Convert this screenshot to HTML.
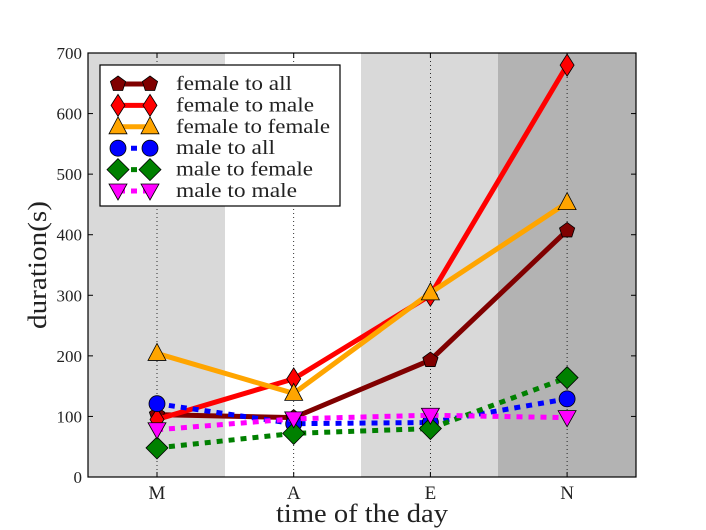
<!DOCTYPE html><html><head><style>body{margin:0;background:#fff}svg{display:block}text{font-family:"Liberation Serif",serif;fill:#222}</style></head><body>
<svg id="s" width="706" height="530" xmlns="http://www.w3.org/2000/svg"></svg>
<script>
const L=88,R=636,T=53,B=477;
const X=i=>157+i*136.7, Y=v=>B-v*(B-T)/700;
let h='';
h+=`<rect x="${L}" y="${T}" width="137" height="${B-T}" fill="#d9d9d9"/>`;
h+=`<rect x="361" y="${T}" width="137" height="${B-T}" fill="#d9d9d9"/>`;
h+=`<rect x="498" y="${T}" width="${R-498}" height="${B-T}" fill="#b3b3b3"/>`;
['M','A','E','N'].forEach((l,i)=>{const x=X(i);h+=`<line x1="${x}" y1="${T}" x2="${x}" y2="${B}" stroke="#000" stroke-width="0.8" stroke-dasharray="1,3"/><line x1="${x}" y1="${B}" x2="${x}" y2="${B-5}" stroke="#000"/><line x1="${x}" y1="${T}" x2="${x}" y2="${T+5}" stroke="#000"/><text x="${x}" y="${B+22}" font-size="19" text-anchor="middle">${l}</text>`;});
for(let v=0;v<=700;v+=100){const y=Y(v);h+=`<line x1="${L}" y1="${y}" x2="${L+5}" y2="${y}" stroke="#000"/><line x1="${R}" y1="${y}" x2="${R-5}" y2="${y}" stroke="#000"/><text x="${L-6}" y="${y+6}" font-size="17" text-anchor="end">${v}</text>`;}
h+=`<rect x="${L}" y="${T}" width="${R-L}" height="${B-T}" fill="none" stroke="#000" stroke-width="1.2"/>`;
h+=`<text x="276" y="522" font-size="26" textLength="172" lengthAdjust="spacingAndGlyphs">time of the day</text>`;
h+=`<text transform="translate(46,329) rotate(-90)" font-size="26" textLength="128" lengthAdjust="spacingAndGlyphs">duration(s)</text>`;
function mk(t,x,y,c){
 if(t=='p'){let p=[];for(let k=0;k<5;k++){let a=-Math.PI/2+k*2*Math.PI/5;p.push((x+8*Math.cos(a))+','+(y+8*Math.sin(a)))}return `<polygon points="${p}" fill="${c}" stroke="#000" stroke-width="0.8"/>`;}
 if(t=='d')return `<polygon points="${x},${y-11} ${x+7},${y} ${x},${y+11} ${x-7},${y}" fill="${c}" stroke="#000" stroke-width="0.8"/>`;
 if(t=='D')return `<polygon points="${x},${y-11} ${x+11},${y} ${x},${y+11} ${x-11},${y}" fill="${c}" stroke="#000" stroke-width="0.8"/>`;
 if(t=='^')return `<polygon points="${x},${y-10} ${x+9},${y+7} ${x-9},${y+7}" fill="${c}" stroke="#000" stroke-width="0.8"/>`;
 if(t=='v')return `<polygon points="${x},${y+9} ${x+9},${y-7} ${x-9},${y-7}" fill="${c}" stroke="#000" stroke-width="0.8"/>`;
 if(t=='o')return `<circle cx="${x}" cy="${y}" r="8" fill="${c}" stroke="#000" stroke-width="0.8"/>`;
}
const S=[
['female to all','#800000','p',0,[103,98,193,407],116],
['female to male','#ff0000','d',0,[95,162,300,680],138],
['female to female','#ffa500','^',0,[204,138,304,453],154],
['male to all','#0000ff','o',1,[121,88,90,129],99],
['male to female','#008000','D',1,[48,72,80,164],137],
['male to male','#ff00ff','v',1,[78,96,102,98],121]];
S.forEach(s=>{const pts=s[4].map((v,i)=>X(i)+','+Y(v)).join(' ');h+=`<polyline points="${pts}" fill="none" stroke="${s[1]}" stroke-width="5" ${s[3]?'stroke-dasharray="6,6"':''}/>`;s[4].forEach((v,i)=>h+=mk(s[2],X(i),Y(v),s[1]));});
h+=`<rect x="100" y="65" width="240" height="141" fill="#fff" stroke="#000" stroke-width="1.2"/>`;
S.forEach((s,i)=>{const y=84+i*21.4;h+=`<line x1="118" y1="${y}" x2="150" y2="${y}" stroke="${s[1]}" stroke-width="5" ${s[3]?'stroke-dasharray="6,6" stroke-dashoffset="-13"':''}/>`+mk(s[2],118,y,s[1])+mk(s[2],150,y,s[1])+`<text x="176" y="${y+6}" font-size="20" textLength="${s[5]}" lengthAdjust="spacingAndGlyphs">${s[0]}</text>`;});
document.getElementById('s').innerHTML=h;
</script></body></html>
